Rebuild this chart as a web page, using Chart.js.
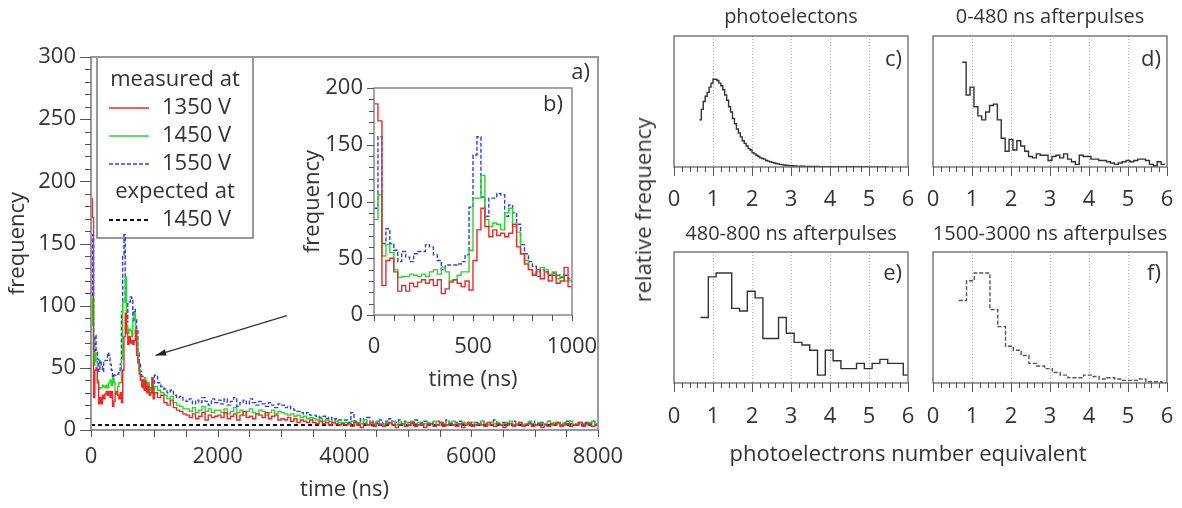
<!DOCTYPE html>
<html>
<head>
<meta charset="utf-8">
<script src="https://cdn.jsdelivr.net/npm/chart.js@4.4.0/dist/chart.umd.min.js"></script>
<style>
  html, body { margin: 0; padding: 0; background: #fff; overflow: hidden; }
  body { width: 1182px; height: 508px; position: relative; font-family: 'Open Sans', sans-serif; color: #333; }
  .box { position: absolute; }
  .lbl { position: absolute; font-size: 22px; white-space: nowrap; transform: translate(-50%, -50%); }
</style>
</head>
<body>
<div class="box" style="left:0;top:0;width:640px;height:508px"><canvas id="mainChart"></canvas></div>
<div class="box" style="left:290px;top:62px;width:320px;height:335px"><canvas id="insetChart"></canvas></div>
<div class="box" style="left:644px;top:0;width:294px;height:215px"><canvas id="panelC"></canvas></div>
<div class="box" style="left:903px;top:0;width:279px;height:215px"><canvas id="panelD"></canvas></div>
<div class="box" style="left:644px;top:215px;width:294px;height:230px"><canvas id="panelE"></canvas></div>
<div class="box" style="left:903px;top:215px;width:279px;height:230px"><canvas id="panelF"></canvas></div>
<div class="lbl" style="left:642px;top:210px;transform:translate(-50%,-50%) rotate(-90deg)">relative frequency</div>
<div class="lbl" style="left:908px;top:452px">photoelectrons number equivalent</div>
<script>
const textColor = '#333';
const fontFamily = "'Open Sans', sans-serif";
const fontSize = 22;
const headingSize = 20;
Chart.defaults.font.family = fontFamily;
Chart.defaults.color = textColor;

// b) inset and start of a): 20 ns bins, 0..1000 ns
const insetBinStart = 0;
const insetBinWidth = 20;
const red1350 = [186,171,26,48,50,38,21,26,21,28, 25,29,31,28,31,26,31,19,23,29,
  31,28,25,30,22,48,75,94,78,69, 75,70,72,69,72,80,60,54,45,40,
  35,40,32,38,30,35,28,30,42,25];
const green1450 = [84,106,52,62,55,40,33,34,34,36, 35,34,36,34,38,40,36,42,38,30,
  31,35,38,38,57,103,103,123,84,78, 81,80,75,90,94,78,73,54,48,40,
  36,38,42,40,36,38,32,34,30,30];
const blue1550 = [94,157,63,76,63,57,47,56,51,47, 54,56,56,62,60,53,48,40,44,44,
  44,45,47,53,95,141,157,104,87,103, 103,107,106,87,97,90,80,62,54,47,
  43,34,40,38,35,37,35,33,35,32];

// rest of a): 50 ns bins, 1000..8000 ns
const tailBinStart = 1000;
const tailBinWidth = 50;
const red1350Tail = [30,26,28,22,20,24,18,16,15,13, 12,10,13,9,11,14,8,12,10,11,
  12,10,14,9,11,13,8,12,15,10, 11,9,13,12,10,14,9,11,12,8,
  9,8,10,7,9,6,8,7,6,8, 6,5,7,5,6,4,6,5,4,5,
  4,5,3,6,4,2,5,4,6,3, 5,4,3,5,6,4,2,4,5,3, 4,6,3,4,5,2,4,5,3,4, 6,3,4,5,4,3,5,2,4,6,
  3,4,5,4,3,6,4,3,5,4, 2,4,5,3,4,6,3,4,5,3, 4,5,2,4,3,5,4,6,3,4, 5,3,4,4,6,3,5,4,3,4];
const green1450Tail = [35,32,30,28,25,27,22,20,19,17, 17,15,18,14,16,19,15,17,14,16,
  16,14,17,13,15,18,14,16,12,15, 17,14,13,16,15,12,14,16,13,15,
  14,13,12,13,11,12,10,11,9,10, 9,8,9,7,8,7,6,7,6,6,
  6,5,7,4,6,5,8,4,6,5, 7,5,4,6,5,7,4,6,5,6, 4,7,5,6,4,5,6,5,7,4, 6,5,4,6,7,5,4,6,5,5,
  6,4,5,7,5,4,6,5,6,4, 5,6,7,4,5,6,4,5,7,5, 4,6,5,5,7,4,6,5,4,6, 5,7,4,5,6,5,4,6,7,5];
const blue1550Tail = [44,38,35,33,30,32,28,26,27,24, 23,25,21,24,22,26,23,20,25,22,
  24,21,25,20,23,26,19,22,24,21, 25,22,20,23,21,19,22,20,18,21,
  20,18,19,17,16,15,14,13,14,12, 12,11,10,11,9,10,8,9,8,8,
  8,6,14,7,5,9,6,10,5,7, 6,8,5,7,9,5,6,8,5,7, 6,5,8,4,6,7,5,6,4,7, 5,6,8,5,4,6,7,5,6,5,
  4,6,5,7,5,4,6,8,5,4, 6,5,4,7,5,6,4,5,6,7, 5,4,6,5,7,4,5,6,4,5, 7,5,4,6,5,4,6,5,7,4];

const expectedTime = [0, 8000];
const expectedFreq = [4, 4];

const seriesLabels = ['1350 V', '1450 V', '1550 V'];
const expectedLabel = '1450 V';
const legendHeads = ['measured at', 'expected at'];

// arrow from inset to the 0-1000 ns part, in data units (time, frequency)
const arrowFrom = [3090, 92];
const arrowTo = [1020, 60];

// c) - f) histograms, relative frequency in percent of panel height
const photoelectrons = [36,44,50,54,57,61,64,67,67,66, 64,62,59,55,51,46,42,37,33,29,
  26,23,20,18,16,14,13,11,10,9, 8,7,6.5,6,5,4.5,4,3.5,3,2.7, 2.4,2,1.8,1.5,1.3,1.2,1.0,
  0.9,0.8,0.8,0.7,0.7,0.6,0.6,0.5,0.5,0.5, 0.4,0.4,0.4,0.4,0.3,0.3,0.3,0.3,0.3,0.3,
  0.3,0.2,0.3,0.2,0.2,0.3,0.2,0.2,0.2,0.2, 0.2,0.1,0.2,0.2,0.1,0.2,0.1,0.1,0.2,0.1,
  0.1,0.1,0.1,0.1,0.1,0.1,0.1,0.1,0.1,0.1];
const after0to480 = [80,55,61,46,39,36,42,47,48,36, 22,12,21,13,20,16,12,8,7,10,
  9,9,5,8,9,7,10,6,4,2, 9,8,8,6,6,5,5,4,3,2, 3,4,5,4,5,6,6,5,2,1, 4,2];
const after480to800 = [50,81,84,84,57,55,70,65,34,34, 50,38,31,29,25,6,25,17,11,11,
  15,11,15,18,15,15,6];
const after1500to3000 = [63,78,84,84,56,43,28,25,21,15, 13,11,8,6,4,4,6,5,3,4,
  3,2,2,3,1,1,0.5];

const panelTitles = ['photoelectons', '0-480 ns afterpulses', '480-800 ns afterpulses', '1500-3000 ns afterpulses'];
const panelTags = ['c)', 'd)', 'e)', 'f)'];
const panelBinStart = [0.65, 0.75, 0.68, 0.66];
const panelBinWidth = [0.05, 0.1, 0.2, 0.2];

function histPoints(start, width, counts) {
  const pts = counts.map((c, i) => ({ x: start + i * width, y: c }));
  pts.push({ x: start + counts.length * width, y: counts[counts.length - 1] });
  return pts;
}

function joined(head, tail) {
  return histPoints(insetBinStart, insetBinWidth, head).slice(0, -1)
    .concat(histPoints(tailBinStart, tailBinWidth, tail));
}

// frame, outside tick marks, corner tag and panel heading
const framePlugin = {
  id: 'frame',
  afterDatasetsDraw(chart, args, opts) {
    const a = chart.chartArea, ctx = chart.ctx;
    ctx.save();
    ctx.strokeStyle = opts.color;
    ctx.lineWidth = opts.width;
    ctx.strokeRect(a.left, a.top, a.right - a.left, a.bottom - a.top);
    ctx.strokeStyle = '#555';
    ctx.lineWidth = 1;
    (opts.marks || []).forEach(t => {
      const s = chart.scales[t.axis];
      const n = Math.round((s.max - s.min) / t.minor);
      for (let i = 0; i <= n; i++) {
        const v = s.min + i * t.minor;
        const r = v / t.major;
        const len = Math.abs(r - Math.round(r)) < 1e-6 ? t.majorLen : t.minorLen;
        const p = Math.round(s.getPixelForValue(v)) + 0.5;
        ctx.beginPath();
        if (s.isHorizontal()) { ctx.moveTo(p, a.bottom); ctx.lineTo(p, a.bottom + len); }
        else { ctx.moveTo(a.left, p); ctx.lineTo(a.left - len, p); }
        ctx.stroke();
      }
    });
    ctx.fillStyle = textColor;
    ctx.font = fontSize + 'px ' + fontFamily;
    ctx.textBaseline = 'middle';
    if (opts.tag) {
      ctx.textAlign = 'right';
      ctx.fillText(opts.tag, a.right - opts.tagDx, a.top + opts.tagDy);
    }
    if (opts.heading) {
      ctx.font = headingSize + 'px ' + fontFamily;
      ctx.textAlign = 'center';
      ctx.fillText(opts.heading, (a.left + a.right) / 2, a.top - opts.headingDy);
    }
    ctx.restore();
  }
};

const boxLegend = {
  id: 'boxLegend',
  beforeDatasetsDraw(chart) {
    const a = chart.chartArea, ctx = chart.ctx;
    const x0 = a.left + 6, y0 = a.top, w = 156, h = 181;
    const rows = [{ head: legendHeads[0] }, { ds: 0 }, { ds: 1 }, { ds: 2 }, { head: legendHeads[1] }, { ds: 3 }];
    ctx.save();
    ctx.fillStyle = '#fff';
    ctx.fillRect(x0, y0, w, h);
    ctx.strokeStyle = '#555';
    ctx.lineWidth = 1.2;
    ctx.strokeRect(x0, y0, w, h);
    ctx.font = fontSize + 'px ' + fontFamily;
    ctx.textBaseline = 'middle';
    rows.forEach((r, i) => {
      const y = y0 + 23 + i * 28;
      ctx.fillStyle = textColor;
      if (r.head) {
        ctx.textAlign = 'center';
        ctx.fillText(r.head, x0 + w / 2, y);
      } else {
        const ds = chart.data.datasets[r.ds];
        ctx.strokeStyle = ds.borderColor;
        ctx.lineWidth = ds.borderWidth;
        ctx.setLineDash(ds.borderDash || []);
        ctx.beginPath();
        ctx.moveTo(x0 + 12, y);
        ctx.lineTo(x0 + 52, y);
        ctx.stroke();
        ctx.setLineDash([]);
        ctx.textAlign = 'left';
        ctx.fillText(ds.label, x0 + 65, y);
      }
    });
    ctx.restore();
  }
};

const arrowPlugin = {
  id: 'arrow',
  afterDatasetsDraw(chart) {
    const sx = chart.scales.x, sy = chart.scales.y, ctx = chart.ctx;
    const x1 = sx.getPixelForValue(arrowFrom[0]), y1 = sy.getPixelForValue(arrowFrom[1]);
    const x2 = sx.getPixelForValue(arrowTo[0]), y2 = sy.getPixelForValue(arrowTo[1]);
    const ang = Math.atan2(y2 - y1, x2 - x1);
    ctx.save();
    ctx.strokeStyle = '#333';
    ctx.fillStyle = '#222';
    ctx.lineWidth = 1.3;
    ctx.beginPath();
    ctx.moveTo(x1, y1);
    ctx.lineTo(x2, y2);
    ctx.stroke();
    ctx.beginPath();
    ctx.moveTo(x2, y2);
    ctx.lineTo(x2 - 11 * Math.cos(ang - 0.3), y2 - 11 * Math.sin(ang - 0.3));
    ctx.lineTo(x2 - 11 * Math.cos(ang + 0.3), y2 - 11 * Math.sin(ang + 0.3));
    ctx.closePath();
    ctx.fill();
    ctx.restore();
  }
};

function lineSet(label, data, color, dash) {
  return {
    label: label, data: data, borderColor: color, borderWidth: 1.4, borderDash: dash,
    stepped: 'before', pointRadius: 0, fill: false
  };
}

const plainNumber = v => String(v);

function xAxis(min, max, step, height, pad, title, titlePad) {
  return {
    type: 'linear', min: min, max: max,
    ticks: { stepSize: step, padding: pad, font: { size: fontSize }, color: textColor, maxRotation: 0, callback: plainNumber },
    grid: { display: false, drawTicks: false },
    border: { display: false },
    title: { display: !!title, text: title, font: { size: fontSize }, color: textColor, padding: { top: 0, bottom: titlePad } },
    afterFit(s) { s.height = height; s.paddingLeft = 0; s.paddingRight = 0; }
  };
}

function yAxis(min, max, step, width, pad, title, titlePad) {
  return {
    min: min, max: max,
    ticks: { stepSize: step, padding: pad, font: { size: fontSize }, color: textColor, callback: plainNumber },
    grid: { display: false, drawTicks: false },
    border: { display: false },
    title: { display: true, text: title, font: { size: fontSize }, color: textColor, padding: { top: titlePad, bottom: 0 } },
    afterFit(s) { s.width = width; s.paddingTop = 0; s.paddingBottom = 0; }
  };
}

const redColor = '#f02828', greenColor = '#28d828', blueColor = '#2f3ff0';

new Chart(document.getElementById('mainChart'), {
  type: 'line',
  data: {
    datasets: [
      lineSet(seriesLabels[0], joined(red1350, red1350Tail), redColor, []),
      lineSet(seriesLabels[1], joined(green1450, green1450Tail), greenColor, []),
      lineSet(seriesLabels[2], joined(blue1550, blue1550Tail), blueColor, [4, 2]),
      Object.assign(lineSet(expectedLabel, expectedTime.map((t, i) => ({ x: t, y: expectedFreq[i] })), '#111', [4, 3]),
        { borderWidth: 2, stepped: false })
    ]
  },
  options: {
    responsive: true, maintainAspectRatio: false, animation: false,
    layout: { padding: { left: 0, top: 57, right: 42, bottom: 0 } },
    plugins: {
      legend: { display: false }, tooltip: { enabled: false },
      frame: { color: '#999', width: 2, tag: 'a)', tagDx: 8, tagDy: 16,
        marks: [{ axis: 'x', minor: 500, major: 500, minorLen: 7, majorLen: 7 },
                { axis: 'y', minor: 10, major: 50, minorLen: 6, majorLen: 11 }] }
    },
    scales: {
      x: xAxis(0, 8000, 2000, 78, 14, 'time (ns)', 5),
      y: yAxis(0, 300, 50, 91, 15, 'frequency', 5)
    }
  },
  plugins: [boxLegend, framePlugin, arrowPlugin]
});

new Chart(document.getElementById('insetChart'), {
  type: 'line',
  data: {
    datasets: [
      lineSet(seriesLabels[0], histPoints(insetBinStart, insetBinWidth, red1350), redColor, []),
      lineSet(seriesLabels[1], histPoints(insetBinStart, insetBinWidth, green1450), greenColor, []),
      lineSet(seriesLabels[2], histPoints(insetBinStart, insetBinWidth, blue1550), blueColor, [4, 2])
    ]
  },
  options: {
    responsive: true, maintainAspectRatio: false, animation: false,
    layout: { padding: { left: 0, top: 26, right: 38, bottom: 0 } },
    plugins: {
      legend: { display: false }, tooltip: { enabled: false },
      frame: { color: '#888', width: 1.5, tag: 'b)', tagDx: 9, tagDy: 17,
        marks: [{ axis: 'x', minor: 100, major: 500, minorLen: 6, majorLen: 6 },
                { axis: 'y', minor: 10, major: 50, minorLen: 5, majorLen: 7 }] }
    },
    scales: {
      x: xAxis(0, 1000, 500, 82, 19, 'time (ns)', 4),
      y: yAxis(0, 200, 50, 84, 11, 'frequency', 10)
    }
  },
  plugins: [framePlugin]
});

const panelData = [photoelectrons, after0to480, after480to800, after1500to3000];
const panelIds = ['panelC', 'panelD', 'panelE', 'panelF'];
panelIds.forEach((id, k) => {
  const top = k < 2;
  new Chart(document.getElementById(id), {
    type: 'line',
    data: {
      datasets: [Object.assign(
        lineSet(panelTitles[k], histPoints(panelBinStart[k], panelBinWidth[k], panelData[k]),
          k === 3 ? '#555' : '#333', k === 3 ? [4, 2] : []),
        { borderWidth: 1.4 })]
    },
    options: {
      responsive: true, maintainAspectRatio: false, animation: false,
      layout: { padding: { left: 30, top: top ? 36 : 37, right: k % 2 ? 15 : 30, bottom: 0 } },
      plugins: {
        legend: { display: false }, tooltip: { enabled: false },
        frame: { color: '#666', width: 1.3, tag: panelTags[k], tagDx: 6, tagDy: top ? 24 : 22,
          heading: panelTitles[k], headingDy: top ? 19 : 18,
          marks: [{ axis: 'x', minor: 0.2, major: 1, minorLen: 5, majorLen: 9 }] }
      },
      scales: {
        x: {
          type: 'linear', min: 0, max: 6,
          ticks: { stepSize: 1, padding: top ? 20 : 21, font: { size: fontSize }, color: textColor, maxRotation: 0 },
          grid: { display: true, drawTicks: false, lineWidth: 1,
            color: c => (c.tick && c.tick.value > 0 && c.tick.value < 6) ? '#b0b0b0' : 'rgba(0,0,0,0)' },
          border: { display: false, dash: [1, 2] },
          afterFit(s) { s.height = top ? 48 : 62; s.paddingLeft = 0; s.paddingRight = 0; }
        },
        y: { display: false, min: 0, max: 100 }
      }
    },
    plugins: [framePlugin]
  });
});
</script>
</body>
</html>
